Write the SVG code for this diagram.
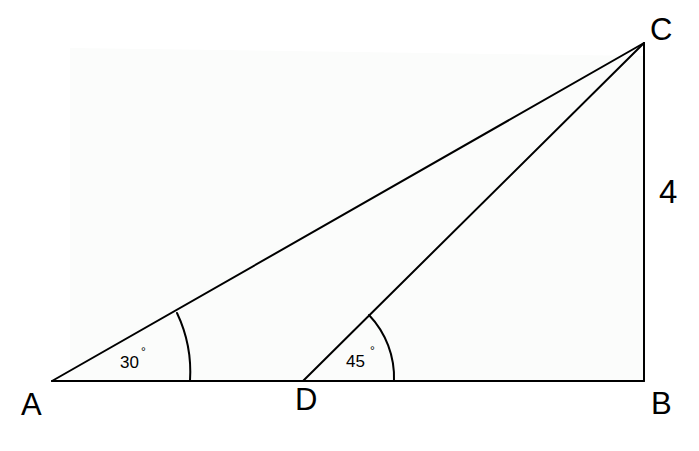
<svg xmlns="http://www.w3.org/2000/svg" width="699" height="451" viewBox="0 0 699 451">
<style>
.ln{stroke:#000;stroke-width:2;fill:none;stroke-linecap:round}
.lbl{font-family:"Liberation Sans",Arial,sans-serif;font-size:31px;fill:#000}
.ang{font-family:"Liberation Sans",Arial,sans-serif;font-size:17px;fill:#000}
.deg{font-family:"Liberation Sans",Arial,sans-serif;font-size:12px;fill:#000}
</style>
<rect width="699" height="451" fill="#fff"/>
<polygon points="70,48 644,56 644,381 70,381" fill="#fbfcfb"/>
<g id="connectors">
<line class="ln" x1="52" y1="381" x2="644" y2="381"/>
<line class="ln" x1="644" y1="381" x2="644" y2="43"/>
<line class="ln" x1="52" y1="381" x2="644" y2="43"/>
<line class="ln" x1="303" y1="381" x2="644" y2="43"/>
<path class="ln" d="M190,381 A138,138 0 0 0 177,313"/>
<path class="ln" d="M394,381 A91,91 0 0 0 369,315"/>
</g>
<g id="A"><text class="lbl" x="21" y="415">A</text></g>
<g id="B"><text class="lbl" x="651" y="414">B</text></g>
<g id="C"><text class="lbl" x="650" y="40">C</text></g>
<g id="D"><text class="lbl" x="295" y="410">D</text></g>
<g id="side"><text class="lbl" x="659" y="203" style="font-size:33px">4</text></g>
<g id="angA"><text class="ang" x="120" y="368">30</text><text class="deg" x="141" y="356">°</text></g>
<g id="angD"><text class="ang" x="346" y="367">45</text><text class="deg" x="370" y="355">°</text></g>
</svg>
